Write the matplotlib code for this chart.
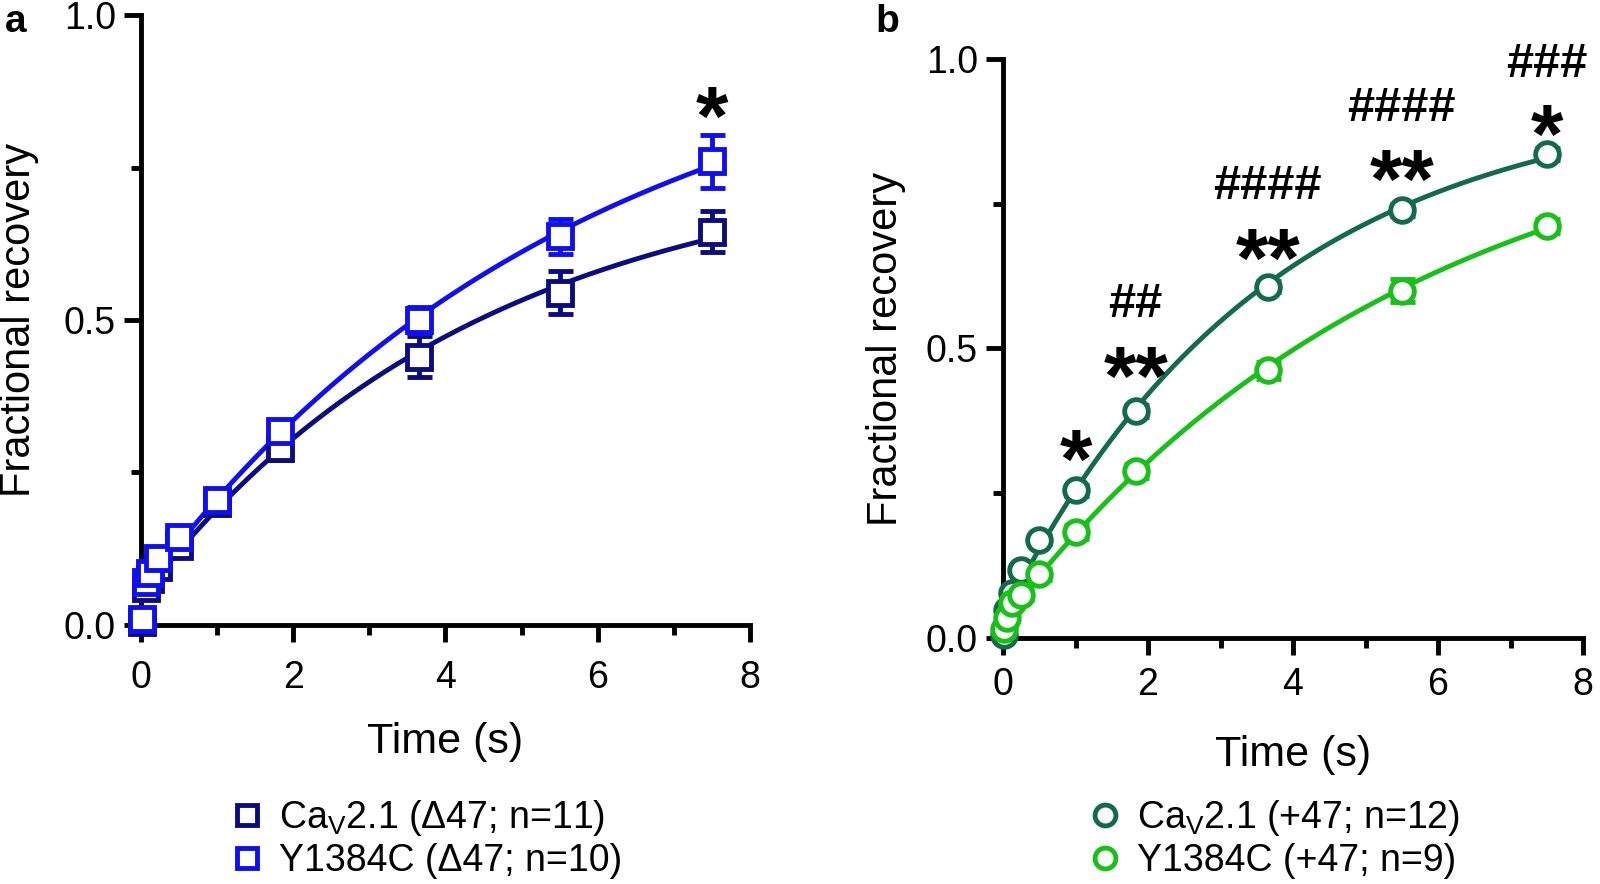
import matplotlib
matplotlib.use("Agg")
import matplotlib.pyplot as plt
from matplotlib.lines import Line2D
import numpy as np

plt.rcParams['font.family'] = ['Liberation Sans', 'DejaVu Sans']

# panel a (delta 47)
time_a = [0.01, 0.06, 0.12, 0.22, 0.5, 1.0, 1.83, 3.65, 5.5, 7.5]
cav_a = [0.005, 0.06, 0.075, 0.095, 0.13, 0.2, 0.29, 0.44, 0.545, 0.645]
cav_a_err = [0.005, 0.01, 0.01, 0.012, 0.012, 0.012, 0.02, 0.033, 0.035, 0.033]
y1384_a = [0.01, 0.07, 0.085, 0.11, 0.145, 0.205, 0.318, 0.5, 0.637, 0.76]
y1384_a_err = [0.005, 0.01, 0.01, 0.012, 0.012, 0.012, 0.015, 0.022, 0.028, 0.043]

# panel b (+47)
time_b = [0.01, 0.06, 0.12, 0.25, 0.5, 1.0, 1.83, 3.65, 5.5, 7.5]
cav_b = [0.005, 0.048, 0.078, 0.117, 0.17, 0.255, 0.392, 0.607, 0.739, 0.836]
cav_b_err = [0.004, 0.006, 0.006, 0.008, 0.008, 0.01, 0.01, 0.01, 0.01, 0.01]
y1384_b = [0.015, 0.035, 0.06, 0.075, 0.11, 0.183, 0.289, 0.462, 0.60, 0.712]
y1384_b_err = [0.005, 0.006, 0.008, 0.01, 0.01, 0.012, 0.012, 0.015, 0.02, 0.012]

labels_a = [r'Ca$_\mathregular{V}$2.1 (Δ47; n=11)', 'Y1384C (Δ47; n=10)']
labels_b = [r'Ca$_\mathregular{V}$2.1 (+47; n=12)', 'Y1384C (+47; n=9)']

# significance marks: (x, y, text)
marks_a = [(7.5, 0.823, '*')]
marks_b = [(1.0, 0.297, '*'), (1.83, 0.441, '**'), (1.83, 0.576, '##'),
           (3.65, 0.644, '**'), (3.65, 0.779, '####'), (5.5, 0.78, '**'),
           (5.5, 0.915, '####'), (7.5, 0.859, '*'), (7.5, 0.99, '###')]

col_a = ['#0c0c80', '#1010ee']
col_b = ['#136b4c', '#19c019']


def fit_exp(t, y):
    # y = y0 + A(1 - exp(-t/tau)), grid over tau, linear for y0 and A
    t = np.asarray(t)
    y = np.asarray(y)
    best = None
    for tau in np.linspace(0.5, 25, 3000):
        f = 1 - np.exp(-t / tau)
        M = np.column_stack([np.ones_like(t), f])
        coef, res, *_ = np.linalg.lstsq(M, y, rcond=None)
        sse = np.sum((y - M @ coef) ** 2)
        if best is None or sse < best[0]:
            best = (sse, coef, tau)
    return best[1], best[2]


def draw_panel(ax, t, series, errs, cols, marker, ms, xpad, xlpad):
    tt = np.linspace(0, 7.5, 300)
    for y, e, c in zip(series, errs, cols):
        (y0, A), tau = fit_exp(t, y)
        ax.plot(tt, y0 + A * (1 - np.exp(-tt / tau)), color=c, lw=3.5, clip_on=False)
        ax.errorbar(t, y, yerr=e, fmt=marker, ms=ms, mfc='white', mec=c,
                    mew=3.5, ecolor=c, elinewidth=3.5, capsize=9, capthick=3.5,
                    clip_on=False, zorder=3)
    ax.set_xlim(0, 8)
    ax.set_ylim(0, 1)
    ax.set_xticks([0, 2, 4, 6, 8])
    ax.set_xticks([1, 3, 5, 7], minor=True)
    ax.set_yticks([0, 0.5, 1.0])
    ax.set_yticks([0.25, 0.75], minor=True)
    ax.set_yticklabels(['0.0', '0.5', '1.0'])
    for s in ['top', 'right']:
        ax.spines[s].set_visible(False)
    for s in ['left', 'bottom']:
        ax.spines[s].set_linewidth(3.5)
    ax.tick_params(which='major', length=12, width=3.5, labelsize=27, pad=6)
    ax.tick_params(axis='x', which='major', pad=xpad)
    ax.tick_params(which='minor', length=7, width=3.5)
    ax.set_xlabel('Time (s)', fontsize=31, labelpad=xlpad)
    ax.set_ylabel('Fractional recovery', fontsize=30, labelpad=14)


fig = plt.figure(figsize=(16, 8.84), dpi=100)

ax1 = fig.add_axes([0.0881, 0.293, 0.3806, 0.690])
draw_panel(ax1, time_a, [cav_a, y1384_a], [cav_a_err, y1384_a_err], col_a, 's', 17, 13, 19)
ax1.yaxis.labelpad = 18
for x, y, s in marks_a:
    ax1.text(x, y, s, ha='center', va='center', fontsize=60, fontweight='bold')

ax2 = fig.add_axes([0.6269, 0.2783, 0.3625, 0.655])
draw_panel(ax2, time_b, [cav_b, y1384_b], [cav_b_err, y1384_b_err], col_b, 'o', 17, 9, 23)
for x, y, s in marks_b:
    if '#' in s:
        ax2.text(x, y, s, ha='center', va='center', fontsize=35, fontweight='bold')
    else:
        ax2.text(x, y, s, ha='center', va='center', fontsize=60, fontweight='bold')

h_a = [Line2D([], [], ls='none', marker='s', ms=15, mfc='white', mec=c, mew=3.5) for c in col_a]
fig.legend(h_a, labels_a, loc='upper left', bbox_to_anchor=(0.131, 0.118), frameon=False,
           fontsize=27, handlelength=1.0, handletextpad=0.35, labelspacing=0.12, borderpad=0)
h_b = [Line2D([], [], ls='none', marker='o', ms=15, mfc='white', mec=c, mew=3.5) for c in col_b]
fig.legend(h_b, labels_b, loc='upper left', bbox_to_anchor=(0.667, 0.118), frameon=False,
           fontsize=27, handlelength=1.0, handletextpad=0.35, labelspacing=0.12, borderpad=0)

fig.text(0.003, 0.975, 'a', fontsize=28, fontweight='bold', va='center')
fig.text(0.547, 0.975, 'b', fontsize=28, fontweight='bold', va='center')

fig.savefig('out.png', dpi=100)
